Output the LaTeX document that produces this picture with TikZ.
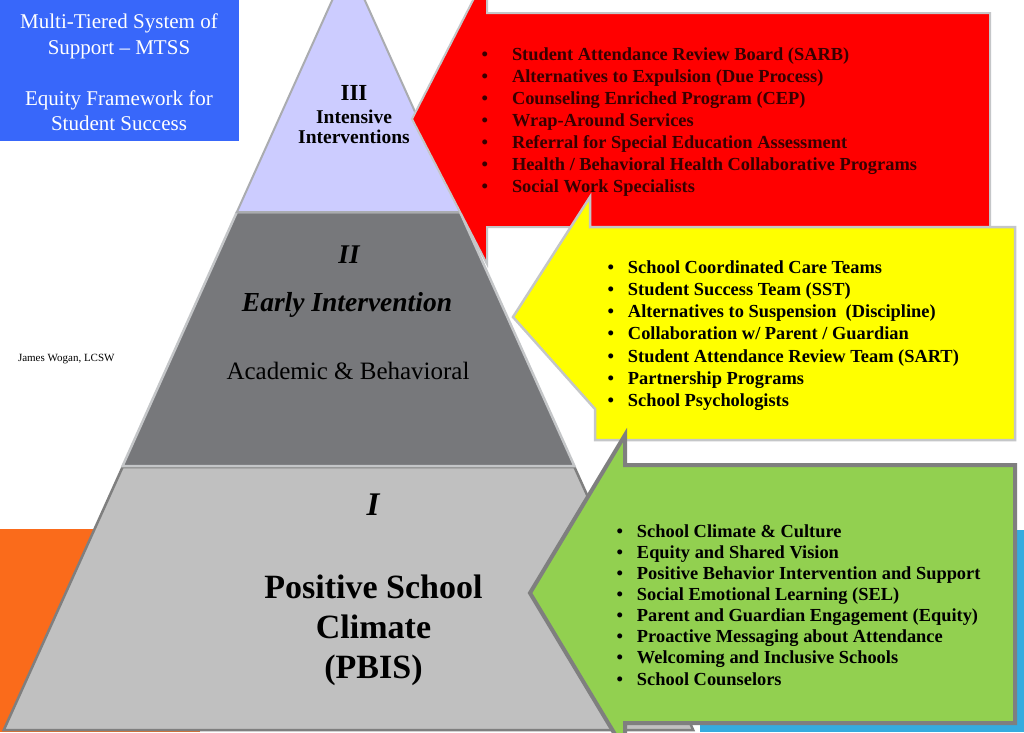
\documentclass[tikz,border=0pt]{standalone}
\usepackage{fontspec}
\setmainfont{Liberation Serif}
\definecolor{mtblue}{RGB}{56,103,250}
\definecolor{lav}{RGB}{204,204,255}
\definecolor{tiertwo}{RGB}{119,120,123}
\definecolor{tierone}{RGB}{192,192,192}
\definecolor{redarr}{RGB}{255,0,0}
\definecolor{yelarr}{RGB}{255,255,0}
\definecolor{grnarr}{RGB}{146,208,80}
\definecolor{edgegray}{RGB}{127,127,127}
\definecolor{litegray}{RGB}{196,198,200}
\definecolor{midgray}{RGB}{170,172,176}
\definecolor{orng}{RGB}{250,107,27}
\definecolor{skyb}{RGB}{53,172,223}
\definecolor{redtext}{RGB}{55,0,0}
\tikzset{
  lbl/.style={inner sep=0pt, outer sep=0pt},
  bluetxt/.style={lbl, anchor=base, text=white, font=\fontsize{21}{24}\selectfont},
  listtxt/.style={lbl, anchor=base west, font=\bfseries\fontsize{18.4}{22}\selectfont},
}
\begin{document}
\begin{tikzpicture}[x=1pt,y=-1pt, line join=miter]
\useasboundingbox (0,0) rectangle (1024,732);
\fill[white] (0,0) rectangle (1024,732);

% background decorations
\fill[mtblue] (0,0) rectangle (239,141);
\fill[orng] (0,529) rectangle (200,732);
\fill[skyb] (700,530) rectangle (1024,732);

% pyramid
\filldraw[fill=tierone, draw=edgegray, line width=2.5pt]
  (122.6,467) -- (574.4,467) -- (693.2,730) -- (3.8,730) -- cycle;
\filldraw[fill=tiertwo, draw=litegray, line width=2.5pt]
  (236.9,212) -- (460.1,212) -- (574.4,466) -- (122.6,466) -- cycle;
\filldraw[fill=lav, draw=midgray, line width=2pt]
  (348.5,-36) -- (460.1,212) -- (236.9,212) -- cycle;

% arrows
\filldraw[fill=redarr, draw=litegray, line width=2pt]
  (412,119) -- (487,-27) -- (487,13) -- (990,13) -- (990,227) -- (487,227) -- (487,264) -- cycle;
\filldraw[fill=yelarr, draw=litegray, line width=2.5pt]
  (513,317) -- (590,197) -- (590,227) -- (1015,227) -- (1015,440) -- (595,440) -- (595,409) -- cycle;
\filldraw[fill=grnarr, draw=edgegray, line width=4pt]
  (530,593) -- (625,435) -- (625,465) -- (1015,465) -- (1015,723) -- (625,723) -- (625,751) -- cycle;

% blue title box
\node[bluetxt] (b1) at (119,28) {Multi-Tiered System of};
\node[bluetxt] (b2) at (119,54) {Support – MTSS};
\node[bluetxt] (b3) at (119,105) {Equity Framework for};
\node[bluetxt] (b4) at (119,130) {Student Success};

% author
\node[lbl, anchor=base west, font=\fontsize{11}{12}\selectfont] (auth) at (18,361) {James Wogan, LCSW};

% tier III
\node[lbl, anchor=base, font=\bfseries\fontsize{23}{24}\selectfont] (t3) at (354,100) {III};
\node[lbl, anchor=base, font=\bfseries\fontsize{19.5}{20}\selectfont] (t3a) at (354,123) {Intensive};
\node[lbl, anchor=base, font=\bfseries\fontsize{19.5}{20}\selectfont] (t3b) at (354,143) {Interventions};

% tier II
\node[lbl, anchor=base, font=\bfseries\itshape\fontsize{27}{28}\selectfont] (t2) at (349,263) {II};
\node[lbl, anchor=base, font=\bfseries\itshape\fontsize{27.5}{28}\selectfont] (t2a) at (347,311) {Early Intervention};
\node[lbl, anchor=base, font=\fontsize{25}{26}\selectfont] (t2b) at (348,379) {Academic \& Behavioral};

% tier I
\node[lbl, anchor=base, font=\bfseries\itshape\fontsize{33}{34}\selectfont] (t1) at (373,515) {I};
\node[lbl, anchor=base, font=\bfseries\fontsize{34}{35}\selectfont] (t1a) at (373.5,598) {Positive School};
\node[lbl, anchor=base, font=\bfseries\fontsize{34}{35}\selectfont] (t1b) at (373.5,638) {Climate};
\node[lbl, anchor=base, font=\bfseries\fontsize{34}{35}\selectfont] (t1c) at (373.5,678) {(PBIS)};

% red list
\foreach \txt [count=\i] in {
  {Student Attendance Review Board (SARB)},
  {Alternatives to Expulsion (Due Process)},
  {Counseling Enriched Program (CEP)},
  {Wrap-Around Services},
  {Referral for Special Education Assessment},
  {Health / Behavioral Health Collaborative Programs},
  {Social Work Specialists}}
  \node[listtxt, text=redtext] (r\i) at (512,{60+22*(\i-1)}) {\llap{\textbullet\hspace{24pt}}\txt};

% yellow list
\foreach \txt [count=\i] in {
  {School Coordinated Care Teams},
  {Student Success Team (SST)},
  {Alternatives to Suspension\ \ (Discipline)},
  {Collaboration w/ Parent / Guardian},
  {Student Attendance Review Team (SART)},
  {Partnership Programs},
  {School Psychologists}}
  \node[listtxt, text=black] (y\i) at (628,{273+22.3*(\i-1)}) {\llap{\textbullet\hspace{14pt}}\txt};

% green list
\foreach \txt [count=\i] in {
  {School Climate \& Culture},
  {Equity and Shared Vision},
  {Positive Behavior Intervention and Support},
  {Social Emotional Learning (SEL)},
  {Parent and Guardian Engagement (Equity)},
  {Proactive Messaging about Attendance},
  {Welcoming and Inclusive Schools},
  {School Counselors}}
  \node[listtxt, text=black] (g\i) at (637,{537+21.15*(\i-1)}) {\llap{\textbullet\hspace{14pt}}\txt};
\end{tikzpicture}
\end{document}
